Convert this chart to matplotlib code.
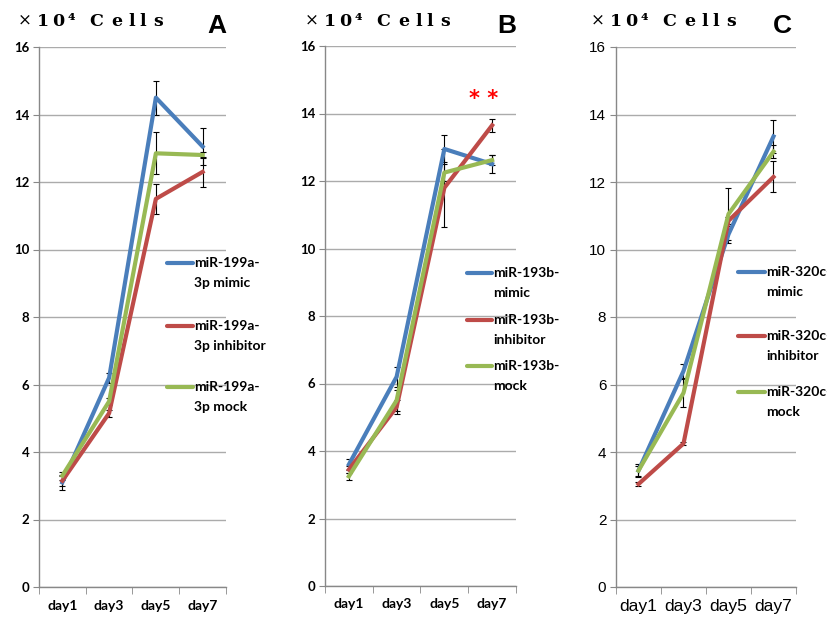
import matplotlib
matplotlib.use('Agg')
import matplotlib.pyplot as plt
import numpy as np

days = ['day1', 'day3', 'day5', 'day7']

# panel A  (miR-199a-3p)
a_mimic = [3.1, 6.2, 14.5, 13.05]
a_mimic_err = [0.22, 0.15, 0.5, 0.55]
a_inhib = [3.15, 5.15, 11.5, 12.3]
a_inhib_err = [0.15, 0.1, 0.45, 0.45]
a_mock = [3.3, 5.5, 12.85, 12.8]
a_mock_err = [0.12, 0.1, 0.62, 0.1]
a_labels = ['miR-199a-\n3p mimic', 'miR-199a-\n3p inhibitor', 'miR-199a-\n3p mock']

# panel B  (miR-193b)
b_mimic = [3.6, 6.2, 12.95, 12.5]
b_mimic_err = [0.15, 0.3, 0.4, 0.27]
b_inhib = [3.45, 5.3, 11.8, 13.65]
b_inhib_err = [0.1, 0.2, 1.15, 0.2]
b_mock = [3.25, 5.5, 12.25, 12.62]
b_mock_err = [0.1, 0.3, 0.25, 0.15]
b_labels = ['miR-193b-\nmimic', 'miR-193b-\ninhibitor', 'miR-193b-\nmock']

# panel C  (miR-320c)
c_mimic = [3.45, 6.4, 10.45, 13.35]
c_mimic_err = [0.2, 0.2, 0.25, 0.5]
c_inhib = [3.05, 4.25, 10.85, 12.15]
c_inhib_err = [0.05, 0.05, 0.1, 0.46]
c_mock = [3.45, 5.75, 11.05, 12.9]
c_mock_err = [0.15, 0.42, 0.77, 0.2]
c_labels = ['miR-320c-\nmimic', 'miR-320c-\ninhibitor', 'miR-320c-\nmock']

colors = ['#4A7EBB', '#BE4B48', '#98B954']
grid_col = '#ABABAB'

# header "x10^4 Cells" is stretched wide in the original, so place it char by char
header_chars = ['\u00d7', '1', '0', '\u2074', 'C', 'e', 'l', 'l', 's']
header_offs = [5, 23, 38, 51, 76, 97, 112, 123, 138]


def panel(ax, vals, errs, labels, leg_x, leg_y, tickfont, tickweight, ticksize, xsize):
    x = np.arange(len(days))
    for v, e, c in zip(vals, errs, colors):
        ax.errorbar(x, v, yerr=e, color=c, lw=3, ecolor='black', elinewidth=0.8,
                    capsize=2.5, capthick=0.8, zorder=3)
    ax.set_xlim(-0.5, 3.5)
    ax.set_ylim(0, 16)
    ax.set_yticks(np.arange(0, 17, 2))
    ax.set_xticks(x)
    ax.set_xticklabels(days)
    ax.set_xticks(np.arange(-0.5, 4, 1), minor=True)
    ax.tick_params(axis='x', which='major', length=0, pad=9)
    ax.tick_params(axis='x', which='minor', length=5, color='#888888', direction='out')
    ax.tick_params(axis='y', length=4, color='#888888', direction='out', pad=3)
    for lab in ax.get_yticklabels():
        lab.set_fontfamily(tickfont)
        lab.set_fontweight(tickweight)
        lab.set_fontsize(ticksize)
    for lab in ax.get_xticklabels():
        lab.set_fontfamily(tickfont)
        lab.set_fontweight(tickweight)
        lab.set_fontsize(xsize)
    ax.grid(axis='y', color=grid_col, lw=1, zorder=0)
    ax.set_axisbelow(True)
    for s in ['top', 'right']:
        ax.spines[s].set_visible(False)
    for s in ['left', 'bottom']:
        ax.spines[s].set_color('#888888')
        ax.spines[s].set_linewidth(1)
    # legend drawn by hand: handle lines up with first text line
    dy = 20.0 / 540
    for lab, c, yy in zip(labels, colors, leg_y):
        ax.plot([leg_x[0], leg_x[1]], [yy, yy], color=c, lw=3, transform=ax.transAxes,
                clip_on=False, solid_capstyle='round', zorder=5)
        l1, l2 = lab.split('\n')
        ax.text(leg_x[1] + 0.005, yy, l1, transform=ax.transAxes, va='center', ha='left',
                fontsize=10, fontfamily='Lato', fontweight='bold', clip_on=False)
        ax.text(leg_x[1] + 0.005, yy - dy, l2, transform=ax.transAxes, va='center', ha='left',
                fontsize=10, fontfamily='Lato', fontweight='bold', clip_on=False)


fig = plt.figure(figsize=(8.28, 6.21), dpi=100)

axA = fig.add_axes([39 / 828, 34 / 621, 187 / 828, 540 / 621])
axB = fig.add_axes([325 / 828, 35 / 621, 191 / 828, 540 / 621])
axC = fig.add_axes([616 / 828, 34 / 621, 180 / 828, 540 / 621])

panel(axA, [a_mimic, a_inhib, a_mock], [a_mimic_err, a_inhib_err, a_mock_err], a_labels,
      (0.684, 0.824), (0.600, 0.483, 0.370), 'Lato', 'bold', 9.5, 10)
panel(axB, [b_mimic, b_inhib, b_mock], [b_mimic_err, b_inhib_err, b_mock_err], b_labels,
      (0.743, 0.874), (0.580, 0.493, 0.407), 'Lato', 'bold', 9.5, 10)
panel(axC, [c_mimic, c_inhib, c_mock], [c_mimic_err, c_inhib_err, c_mock_err], c_labels,
      (0.678, 0.828), (0.583, 0.465, 0.361), 'Liberation Sans', 'normal', 11, 12.5)

axB.text(2.83, 14.42, '* *', color='red', fontsize=15, fontweight='bold',
         ha='center', va='center')

# headers
for x0, xl, letter in [(20, 207, 'A'), (307, 497, 'B'), (593, 773, 'C')]:
    for ch, off in zip(header_chars, header_offs):
        if ch == '\u00d7':
            fig.text((x0 + off) / 828, 1 - 20 / 621, ch, fontsize=12,
                     fontfamily='DejaVu Serif', va='center', ha='center')
        else:
            fig.text((x0 + off) / 828, 1 - 26 / 621, ch, fontsize=12.5,
                     fontfamily='DejaVu Serif', fontweight='bold',
                     va='baseline', ha='center')
    fig.text(xl / 828, 1 - 33 / 621, letter, fontsize=19, fontfamily='Liberation Sans',
             fontweight='bold', va='baseline', ha='left')

fig.savefig('out.png', dpi=100)
